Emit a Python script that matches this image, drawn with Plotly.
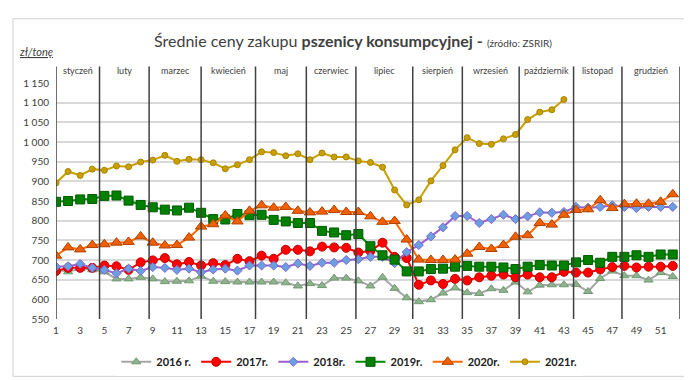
import plotly.graph_objects as go

weeks = list(range(1, 53))

y2016 = [675, 670, 678, 675, 670, 652, 652, 656, 652, 645, 646, 647, 659, 646, 645, 644, 644, 644, 644, 642,
         634, 640, 635, 654, 654, 647, 634, 656, 628, 604, 594, 599, 616, 629, 617, 615, 627, 623, 644, 619,
         636, 637, 637, 638, 620, 653, 672, 660, 660, 649, 668, 658]
y2017 = [672, 680, 680, 680, 686, 684, 675, 694, 699, 705, 689, 695, 686, 692, 687, 703, 697, 711, 703, 726,
         726, 722, 734, 732, 731, 719, 723, 744, 708, 705, 637, 648, 639, 652, 648, 656, 660, 663, 656, 663,
         656, 656, 670, 668, 668, 676, 682, 685, 681, 683, 683, 685]
y2018 = [683, 684, 690, 680, 675, 666, 678, 672, 682, 680, 675, 678, 669, 676, 678, 673, 686, 686, 686, 682,
         691, 685, 693, 693, 700, 702, 708, 708, 692, 720, 738, 760, 783, 812, 812, 794, 804, 815, 804, 811,
         821, 820, 822, 835, 833, 835, 839, 835, 832, 835, 835, 835]
y2019 = [848, 850, 854, 855, 863, 864, 851, 840, 834, 828, 826, 833, 820, 804, 803, 817, 814, 815, 802, 798,
         794, 794, 774, 770, 763, 766, 735, 712, 701, 671, 671, 677, 678, 683, 685, 683, 683, 681, 677, 683,
         687, 686, 686, 694, 700, 693, 708, 708, 712, 708, 714, 714]
y2020 = [711, 732, 727, 738, 740, 744, 746, 760, 744, 737, 738, 757, 785, 791, 813, 798, 825, 839, 833, 835,
         825, 821, 823, 827, 822, 822, 811, 797, 799, 752, 701, 700, 700, 701, 716, 733, 728, 738, 759, 763,
         794, 790, 815, 827, 829, 852, 832, 842, 843, 843, 848, 867]
y2021 = [896, 925, 915, 931, 928, 939, 937, 949, 954, 966, 951, 956, 955, 947, 932, 942, 955, 975, 973, 965,
         970, 955, 972, 962, 962, 952, 948, 936, 878, 840, 853, 901, 940, 980, 1011, 996, 994, 1008, 1019, 1057,
         1076, 1082, 1108]

series_names = ["2016 r.", "2017r.", "2018r.", "2019r.", "2020r.", "2021r."]
months = ["styczeń", "luty", "marzec", "kwiecień", "maj", "czerwiec", "lipiec",
          "sierpień", "wrzesień", "październik", "listopad", "grudzień"]
month_bounds = [1, 4.6, 8.7, 13, 17.5, 21.7, 25.8, 30.5, 34.6, 39.3, 43.8, 47.8, 52.6]
y_ticks = list(range(550, 1151, 50))
y_ticktext = [(f"{v // 1000} {v % 1000:03d}" if v >= 1000 else str(v)) for v in y_ticks]
x_ticks = list(range(1, 52, 2))

styles = [
    dict(line="#a6a6a6", mc="#8fb28f", ml="#6e9a6e", sym="triangle-up", size=8),
    dict(line="#ff0000", mc="#ff0000", ml="#c00000", sym="circle", size=9),
    dict(line="#9b5fd0", mc="#6a9fe0", ml="#7b68d0", sym="diamond", size=7),
    dict(line="#008a00", mc="#008000", ml="#005a00", sym="square", size=9),
    dict(line="#ff6a00", mc="#f06000", ml="#b04000", sym="triangle-up", size=10),
    dict(line="#c9a000", mc="#c9a000", ml="#a88400", sym="circle", size=6),
]

FONT = "Lato"
fig = go.Figure()
all_y = [y2016, y2017, y2018, y2019, y2020, y2021]
for name, ys, st in zip(series_names, all_y, styles):
    fig.add_trace(go.Scatter(
        x=weeks[:len(ys)], y=ys, name=name, mode="lines+markers",
        line=dict(color=st["line"], width=2),
        marker=dict(symbol=st["sym"], size=st["size"], color=st["mc"],
                    line=dict(color=st["ml"], width=1)),
    ))

shapes = []
for b in month_bounds:
    shapes.append(dict(type="line", xref="x", yref="paper", x0=b, x1=b, y0=0, y1=1.07,
                       line=dict(color="#404040", width=1.5), layer="above"))
# outer frame
shapes.append(dict(type="rect", xref="paper", yref="paper", x0=-0.069, x1=1.0096, y0=-0.243, y1=1.272,
                   line=dict(color="#d0d0d0", width=1), layer="below"))

annotations = []
for i, m in enumerate(months):
    annotations.append(dict(x=(month_bounds[i] + month_bounds[i + 1]) / 2, y=1.053, xref="x", yref="paper",
                            text=m, showarrow=False, font=dict(family=FONT, size=9, color="#404040"),
                            xanchor="center", yanchor="middle"))
annotations.append(dict(
    x=0.476, y=1.18, xref="paper", yref="paper", showarrow=False, xanchor="center", yanchor="middle",
    text="Średnie ceny zakupu <b>pszenicy konsumpcyjnej -</b> <span style='font-size:10px'>(źródło: ZSRIR)</span>",
    font=dict(family=FONT, size=16, color="#404040")))
annotations.append(dict(
    x=-0.0625, y=1.132, xref="paper", yref="paper", showarrow=False, xanchor="left", yanchor="middle",
    text="<i><u>zł/tonę</u></i>", font=dict(family=FONT, size=11, color="#404040")))

fig.update_layout(
    width=692, height=380,
    margin=dict(l=48, r=20, t=75, b=62),
    paper_bgcolor="white", plot_bgcolor="white",
    font=dict(family=FONT, size=10, color="#404040"),
    shapes=shapes, annotations=annotations,
    showlegend=True,
    legend=dict(orientation="h", x=0.47, xanchor="center", y=-0.12, yanchor="top",
                font=dict(family=FONT, size=11, color="#202020", weight="bold"),
                itemwidth=30, tracegroupgap=0),
    xaxis=dict(range=[1, 52.6], tickvals=x_ticks, showgrid=False, zeroline=False, showline=False,
               ticks="", tickfont=dict(size=10), ticklabelstandoff=4),
    yaxis=dict(range=[550, 1150], tickvals=y_ticks, ticktext=y_ticktext, showgrid=True,
               gridcolor="#d9d9d9", gridwidth=1.5, zeroline=False, showline=False, ticks="",
               tickfont=dict(size=10), ticklabelstandoff=6),
)

fig.write_html("out.html")
